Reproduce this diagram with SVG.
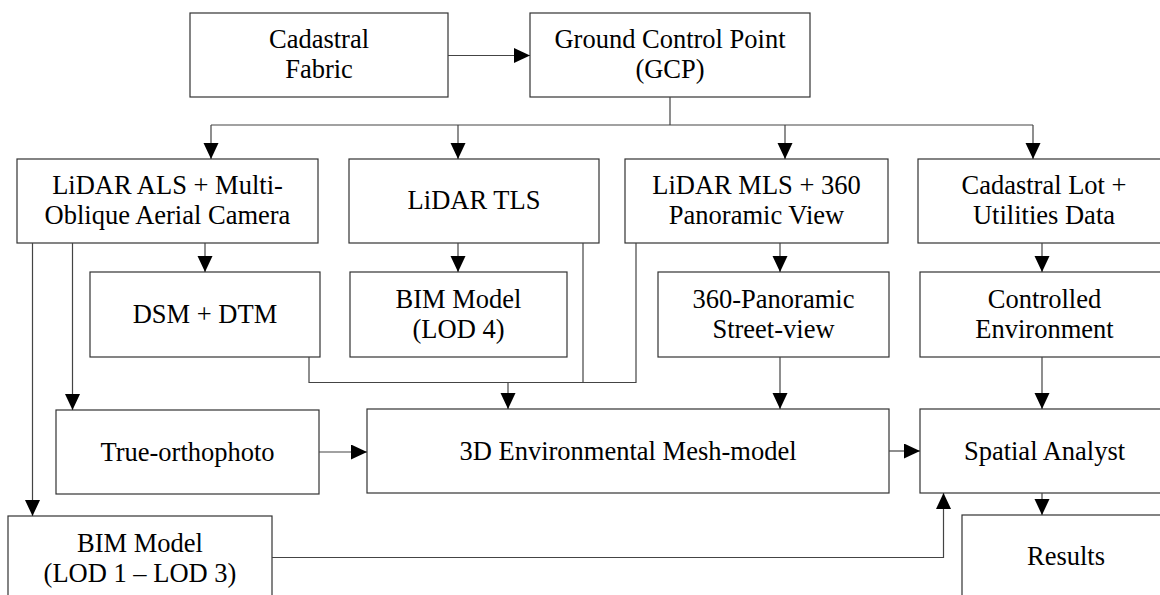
<svg xmlns="http://www.w3.org/2000/svg" width="1160" height="595" viewBox="0 0 1160 595">
<defs>
<marker id="arr" markerUnits="userSpaceOnUse" markerWidth="17" markerHeight="16" refX="16" refY="7.5" orient="auto">
<path d="M0,0 L16,7.5 L0,15 Z" fill="#000"/>
</marker>
</defs>
<style>
.box{fill:#fff;stroke:#333;stroke-width:1.2}
.t{font-family:"Liberation Serif","Times New Roman",serif;font-size:26.5px;fill:#000;text-anchor:middle}
.c{fill:none;stroke:#444;stroke-width:1.2}
</style>
<rect width="1160" height="595" fill="#fff"/>
<g id="cadastral-fabric"><rect class="box" x="190" y="13" width="258" height="84"/><text class="t" x="319" y="48">Cadastral</text><text class="t" x="319" y="78">Fabric</text></g>
<g id="gcp"><rect class="box" x="530" y="13" width="280" height="84"/><text class="t" x="670" y="48">Ground Control Point</text><text class="t" x="670" y="78">(GCP)</text></g>
<g id="lidar-als"><rect class="box" x="17" y="159" width="301" height="84"/><text class="t" x="167.5" y="194">LiDAR ALS + Multi-</text><text class="t" x="167.5" y="224">Oblique Aerial Camera</text></g>
<g id="lidar-tls"><rect class="box" x="349" y="159" width="250" height="84"/><text class="t" x="474" y="209">LiDAR TLS</text></g>
<g id="lidar-mls"><rect class="box" x="625" y="159" width="263" height="84"/><text class="t" x="756.5" y="194">LiDAR MLS + 360</text><text class="t" x="756.5" y="224">Panoramic View</text></g>
<g id="cadastral-lot"><rect class="box" x="918" y="159" width="252" height="84"/><text class="t" x="1044" y="194">Cadastral Lot +</text><text class="t" x="1044" y="224">Utilities Data</text></g>
<g id="dsm-dtm"><rect class="box" x="90" y="272" width="230" height="85"/><text class="t" x="205" y="323">DSM + DTM</text></g>
<g id="bim-lod4"><rect class="box" x="350" y="272" width="217" height="85"/><text class="t" x="458.5" y="307.5">BIM Model</text><text class="t" x="458.5" y="337.5">(LOD 4)</text></g>
<g id="panoramic-street"><rect class="box" x="658" y="272" width="231" height="85"/><text class="t" x="773.5" y="307.5">360-Panoramic</text><text class="t" x="773.5" y="337.5">Street-view</text></g>
<g id="controlled-env"><rect class="box" x="920" y="272" width="250" height="85"/><text class="t" x="1044.5" y="307.5">Controlled</text><text class="t" x="1044.5" y="337.5">Environment</text></g>
<g id="true-orthophoto"><rect class="box" x="56" y="410" width="263" height="84"/><text class="t" x="187.5" y="460.5">True-orthophoto</text></g>
<g id="mesh-model"><rect class="box" x="367" y="409" width="522" height="84"/><text class="t" x="628" y="460">3D Environmental Mesh-model</text></g>
<g id="spatial-analyst"><rect class="box" x="920" y="409" width="250" height="84"/><text class="t" x="1044.5" y="460">Spatial Analyst</text></g>
<g id="bim-lod13"><rect class="box" x="8" y="516" width="264" height="86"/><text class="t" x="140" y="552">BIM Model</text><text class="t" x="140" y="582">(LOD 1 – LOD 3)</text></g>
<g id="results"><rect class="box" x="962" y="515" width="208" height="86"/><text class="t" x="1066" y="565">Results</text></g>
<g id="connectors">
<path class="c" d="M448,55.5 H530" marker-end="url(#arr)"/>
<path class="c" d="M670,97 V125 M211,125 H1033"/>
<path class="c" d="M211,125 V159" marker-end="url(#arr)"/>
<path class="c" d="M458,125 V159" marker-end="url(#arr)"/>
<path class="c" d="M785,125 V159" marker-end="url(#arr)"/>
<path class="c" d="M1033,125 V159" marker-end="url(#arr)"/>
<path class="c" d="M205,243 V272" marker-end="url(#arr)"/>
<path class="c" d="M458,243 V272" marker-end="url(#arr)"/>
<path class="c" d="M780,243 V272" marker-end="url(#arr)"/>
<path class="c" d="M1042,243 V272" marker-end="url(#arr)"/>
<path class="c" d="M32.5,243 V516" marker-end="url(#arr)"/>
<path class="c" d="M72.5,243 V410" marker-end="url(#arr)"/>
<path class="c" d="M309,357 V382.5 H636 V243 M583,243 V382.5"/>
<path class="c" d="M508,382.5 V409" marker-end="url(#arr)"/>
<path class="c" d="M780,357 V409" marker-end="url(#arr)"/>
<path class="c" d="M1042,357 V409" marker-end="url(#arr)"/>
<path class="c" d="M319,452 H367" marker-end="url(#arr)"/>
<path class="c" d="M889,451 H920" marker-end="url(#arr)"/>
<path class="c" d="M1042,493 V515" marker-end="url(#arr)"/>
<path class="c" d="M272,557.5 H943.5 V493" marker-end="url(#arr)"/>
</g>
</svg>
